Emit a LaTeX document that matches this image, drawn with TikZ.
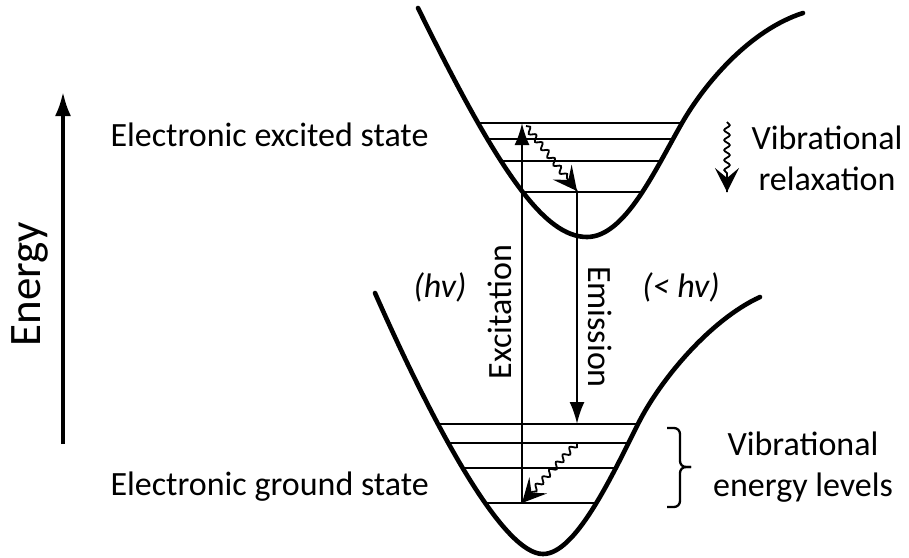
\documentclass[tikz,border=0pt]{standalone}
\usepackage{fontspec}
\setmainfont{Carlito}
\usetikzlibrary{arrows.meta,decorations.pathmorphing,calc}

\begin{document}
\begin{tikzpicture}[x=1pt, y=-1pt, font=\fontsize{34}{41}\selectfont,
    well/.style={line width=4.6pt, line cap=round},
    level/.style={line width=2.3pt},
    trans/.style={line width=2.3pt, -{Latex[length=22pt,width=15pt]}},
    relax/.style={line width=1.8pt, decorate,
      decoration={snake, amplitude=2.8pt, segment length=10pt, post length=14pt}},
    relaxtip/.style={line width=1.8pt, -{Stealth[length=24pt,width=24pt,inset=10pt]}}]
    \useasboundingbox (0,0) rectangle (909,557);
    % energy axis
    \coordinate (eaxlo) at (63,444);
    \coordinate (eaxhi) at (63,92);
    \draw[line width=3.4pt, -{Latex[length=24pt,width=16pt]}] (eaxlo) -- (eaxhi);
    \node[rotate=90, font=\fontsize{45}{50}\selectfont] (energy) at (30,284) {Energy};
    % excited state well
    \def\upwell{(418,8) .. controls (500,175) and (545,237) .. (587,237)
      .. controls (625,237) and (655,170) .. (682,123)
      .. controls (705,83) and (750,30) .. (803,13)}
    \begin{scope}
      \clip \upwell -- cycle;
      \foreach \y in {123,139,161,192}
        \draw[level] (400,\y) -- (820,\y);
    \end{scope}
    \draw[well] \upwell;
    % ground state well
    \def\lowwell{(375,293) .. controls (440,440) and (505,554) .. (543,554)
      .. controls (575,554) and (610,480) .. (638,424)
      .. controls (660,380) and (710,320) .. (760,297)}
    \begin{scope}
      \clip \lowwell -- cycle;
      \foreach \y in {424,443,468,503}
        \draw[level] (360,\y) -- (780,\y);
    \end{scope}
    \draw[well] \lowwell;
    % transitions
    \coordinate (exbot) at (522,503);
    \coordinate (extop) at (522,123);
    \coordinate (emtop) at (577,192);
    \coordinate (embot) at (577,424);
    \coordinate (upA) at (526,126);
    \coordinate (upB) at (577,191);
    \coordinate (loA) at (577,443);
    \coordinate (loB) at (522,503);
    \draw[trans] (exbot) -- (extop);
    \draw[trans] (emtop) -- (embot);
    \draw[relax] (upA) -- (upB);
    \draw[relaxtip] ($(upB)!14pt!(upA)$) -- (upB);
    \draw[relax] (loA) -- (loB);
    \draw[relaxtip] ($(loB)!14pt!(loA)$) -- (loB);
    % labels
    \node[anchor=base west] (excited) at (107,146) {Electronic excited state};
    \node[anchor=base west] (ground) at (107,495) {Electronic ground state};
    \node[rotate=90] (excit) at (500,312) {Excitation};
    \node[rotate=-90] (emis) at (600,327) {Emission};
    \node[font=\fontsize{34}{41}\selectfont\itshape] (hnu) at (440,287) {(hv)};
    \node[font=\fontsize{34}{41}\selectfont\itshape] (lhnu) at (681,287) {(< hv)};
    % legend
    \coordinate (legA) at (727,122);
    \coordinate (legB) at (727,192);
    \draw[relax] (legA) -- (legB);
    \draw[relaxtip] ($(legB)!14pt!(legA)$) -- (legB);
    \node[align=center] (vibrel) at (827,158) {Vibrational\\relaxation};
    \draw[line width=2.3pt, rounded corners=6pt]
      (667,428) -- (680,428) -- (680,467) -- (691,467);
    \draw[line width=2.3pt, rounded corners=6pt]
      (667,507) -- (680,507) -- (680,467) -- (691,467);
    \node[align=center] (viblev) at (803,467) {Vibrational\\energy levels};
  \end{tikzpicture}
\end{document}
